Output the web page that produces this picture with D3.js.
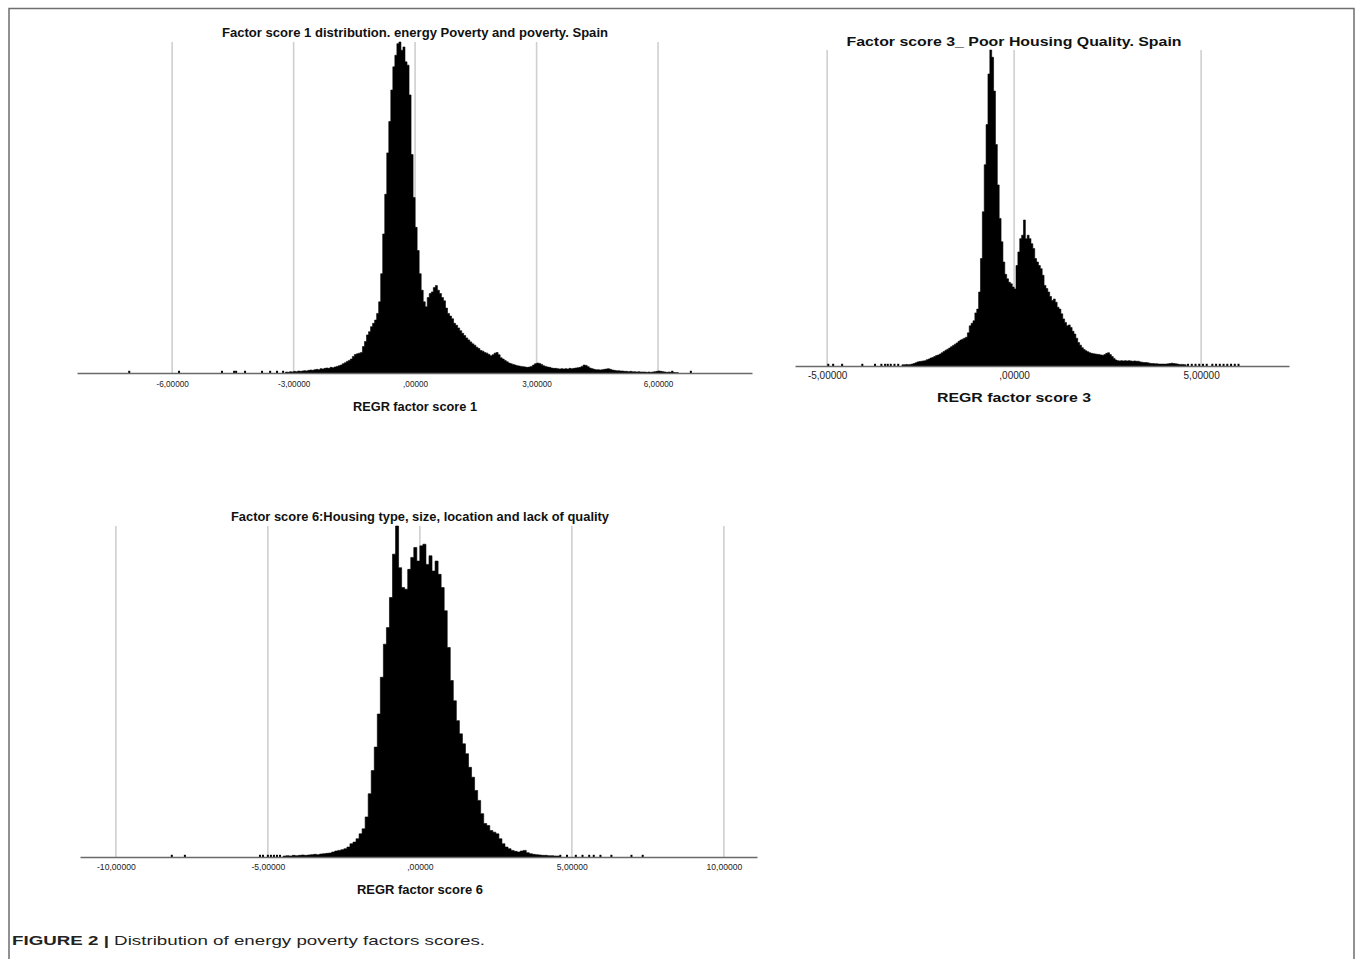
<!DOCTYPE html>
<html>
<head>
<meta charset="utf-8">
<script src="https://cdn.jsdelivr.net/npm/d3@7"></script>
<style>
  html, body { margin: 0; padding: 0; background: #fff; }
  svg { display: block; }
  text { font-family: "Liberation Sans", Arial, sans-serif; }
</style>
</head>
<body>
<svg id="fig" width="1357" height="959"></svg>
<script>
// ---------------- DATA (relative frequency, peak = 1000) ----------------
// Factor score 1: bins of 0.05 starting at -3.20
const score1Start = -3.2;
const score1BinWidth = 0.05;
const score1Counts = [
  3, 2, 4, 3, 5, 4, 6, 5, 6, 7, 6, 8, 9, 8, 10, 11, 10, 13, 12, 14, 15, 14, 17, 16,
  18, 20, 22, 24, 28, 31, 35, 38, 42, 50, 56, 58, 60, 62, 80, 95, 115, 125, 140, 150,
  160, 180, 215, 300, 420, 540, 665, 760, 855, 925, 960, 995, 1000, 975, 985, 940, 930, 840, 660, 530,
  440, 370, 300, 250, 215, 200, 228, 240, 245, 258, 264, 250, 240, 228, 218, 196, 180, 172, 164, 150,
  144, 136, 128, 120, 113, 106, 100, 94, 88, 84, 78, 74, 68, 66, 62, 60, 56, 52, 55, 60,
  62, 55, 46, 42, 38, 34, 30, 28, 26, 24, 22, 21, 20, 19, 18, 17, 18, 20, 24, 28,
  30, 29, 26, 22, 20, 18, 17, 15, 14, 14, 13, 12, 13, 12, 13, 12, 14, 13, 14, 15,
  16, 17, 20, 24, 23, 19, 15, 13, 11, 10, 10, 9, 10, 11, 12, 13, 11, 9, 8, 7,
  7, 6, 6, 5, 5, 4, 5, 4, 4, 3, 4, 3, 3, 3, 2, 3, 2, 3, 4, 5,
  6, 5, 4, 3, 2, 3, 2, 2, 1, 1
];
const score1Outliers = [-7.06, -5.83, -4.77, -4.47, -4.42, -4.2, -3.78, -3.58, -3.41, -3.26, 6.35, 6.81];
const score1Ticks = [-6, -3, 0, 3, 6];
const score1TickLabels = ["-6,00000", "-3,00000", ",00000", "3,00000", "6,00000"];

// Factor score 3: bins of 0.05 starting at -3.00
const score3Start = -3.0;
const score3BinWidth = 0.05;
const score3Counts = [
  4, 4, 5, 4, 5, 6, 8, 10, 13, 14, 15, 16, 17, 20, 22, 25, 27, 30, 33, 35,
  38, 42, 46, 50, 53, 57, 61, 65, 69, 73, 78, 82, 85, 88, 91, 105, 127, 135, 143, 168,
  180, 234, 340, 488, 637, 764, 924, 1000, 977, 870, 701, 573, 467, 393, 329, 290, 276, 265, 260, 250,
  244, 318, 361, 403, 414, 462, 403, 414, 403, 387, 372, 340, 329, 318, 308, 287, 255, 245, 234, 220,
  207, 212, 202, 186, 180, 165, 149, 138, 127, 130, 122, 110, 101, 88, 74, 66, 58, 52, 48, 45,
  42, 40, 39, 38, 37, 36, 35, 34, 36, 40, 42, 36, 30, 24, 19, 17, 16, 17, 16, 17,
  16, 17, 16, 15, 16, 15, 15, 13, 12, 11, 11, 10, 9, 8, 8, 7, 7, 6, 6, 6,
  6, 6, 7, 8, 9, 8, 7, 6, 5, 5, 5, 4
];
const score3Outliers = [-4.97, -4.84, -4.6, -4.06, -3.72, -3.55, -3.45, -3.38, -3.3, -3.2, -3.1,
  4.65, 4.75, 4.85, 4.95, 5.05, 5.15, 5.3, 5.4, 5.5, 5.6, 5.7, 5.8, 5.9, 6.0];
const score3Ticks = [-5, 0, 5];
const score3TickLabels = ["-5,00000", ",00000", "5,00000"];

// Factor score 6: bins of 0.1 starting at -4.5
const score6Start = -4.5;
const score6BinWidth = 0.1;
const score6Counts = [
  3, 4, 3, 5, 4, 5, 6, 5, 6, 7, 8, 7, 9, 10, 11, 12, 15, 18, 20, 22,
  25, 30, 40, 45, 55, 70, 85, 121, 191, 261, 332, 432, 543, 643, 693, 784, 915, 1000, 874, 814,
  809, 869, 905, 935, 894, 940, 945, 884, 910, 864, 894, 854, 814, 744, 633, 533, 472, 412, 372, 342,
  312, 271, 241, 201, 171, 131, 101, 95, 80, 75, 70, 55, 40, 30, 25, 20, 17, 15, 18, 20,
  13, 10, 8, 7, 6, 5, 5, 4, 4, 3, 3
];
const score6Outliers = [-8.16, -7.73, -5.26, -5.16, -5.0, -4.9, -4.8, -4.7, -4.6,
  4.62, 4.84, 5.13, 5.35, 5.57, 5.72, 5.94, 6.3, 6.96, 7.33];
const score6Ticks = [-10, -5, 0, 5, 10];
const score6TickLabels = ["-10,00000", "-5,00000", ",00000", "5,00000", "10,00000"];

const titles = [
  "Factor score  1 distribution. energy Poverty and poverty. Spain",
  "Factor score 3_ Poor Housing Quality. Spain",
  "Factor score 6:Housing type, size, location and lack of quality"
];
const axisTitles = ["REGR factor score 1", "REGR factor score 3", "REGR factor score 6"];

// ---------------- DRAWING ----------------
const svg = d3.select("#fig");

// outer frame (open at bottom)
svg.append("path")
  .attr("d", "M9,959 L9,8.5 L1354,8.5 L1354,959")
  .attr("fill", "none").attr("stroke", "#6e6e6e").attr("stroke-width", 1.5);

function drawHist(cfg) {
  const g = svg.append("g");
  const x = d3.scaleLinear().domain(cfg.domain).range([cfg.left, cfg.right]);
  const y = d3.scaleLinear().domain([0, 1000]).range([cfg.bottom, cfg.top]);

  // gridlines
  g.selectAll("line.grid").data(cfg.ticks).join("line")
    .attr("class", "grid")
    .attr("x1", d => x(d)).attr("x2", d => x(d))
    .attr("y1", cfg.top).attr("y2", cfg.bottom)
    .attr("stroke", "#cfcfcf").attr("stroke-width", 1.6);

  // histogram as one stepped area (no seams between bins)
  const pts = cfg.counts.map((c, i) => ({ x0: cfg.start + i * cfg.bw, c }));
  pts.push({ x0: cfg.start + cfg.counts.length * cfg.bw, c: cfg.counts[cfg.counts.length - 1] });
  const area = d3.area()
    .x(d => x(d.x0))
    .y0(cfg.bottom)
    .y1(d => y(d.c))
    .curve(d3.curveStepAfter);
  g.append("path").datum(pts)
    .attr("d", area)
    .attr("fill", "#000")
    .attr("stroke", "#000").attr("stroke-width", 0.6).attr("stroke-linejoin", "miter");

  // isolated extreme values
  g.selectAll("rect.out").data(cfg.outliers).join("rect")
    .attr("class", "out")
    .attr("x", d => x(d) - 1)
    .attr("width", 2)
    .attr("y", cfg.bottom - 2.2)
    .attr("height", 2.2)
    .attr("fill", "#000");

  // axis
  const axis = d3.axisBottom(x)
    .tickValues(cfg.ticks)
    .tickFormat((d, i) => cfg.tickLabels[i])
    .tickSize(0).tickSizeOuter(0).tickPadding(cfg.tickPad);
  const ax = g.append("g").attr("transform", `translate(0,${cfg.bottom})`).call(axis);
  ax.select(".domain").attr("stroke", "#6a6a6a").attr("stroke-width", 1.3);
  ax.selectAll("text")
    .attr("fill", "#222")
    .style("font-family", cfg.tickFont)
    .style("font-size", cfg.tickSize + "px");

  // title
  g.append("text")
    .attr("x", cfg.titleX).attr("y", cfg.titleY)
    .attr("text-anchor", "middle")
    .attr("font-weight", "bold")
    .attr("font-size", cfg.titleSize)
    .attr("textLength", cfg.titleLen).attr("lengthAdjust", "spacingAndGlyphs")
    .attr("fill", "#111")
    .text(cfg.title);

  g.append("text")
    .attr("x", cfg.titleX).attr("y", cfg.axisTitleY)
    .attr("text-anchor", "middle")
    .attr("font-weight", "bold")
    .attr("font-size", cfg.axisTitleSize)
    .attr("textLength", cfg.axisTitleLen).attr("lengthAdjust", "spacingAndGlyphs")
    .attr("fill", "#111")
    .text(cfg.axisTitle);
}

drawHist({
  domain: [-8.35, 8.32], left: 77, right: 752, top: 42, bottom: 373,
  start: score1Start, bw: score1BinWidth, counts: score1Counts, outliers: score1Outliers,
  ticks: score1Ticks, tickLabels: score1TickLabels, tickPad: 8, tickSize: 8.2,
  tickFont: "'Liberation Sans', Arial, sans-serif",
  title: titles[0], titleX: 415, titleY: 37, titleSize: 12.5, titleLen: 386,
  axisTitle: axisTitles[0], axisTitleY: 411, axisTitleSize: 12, axisTitleLen: 124
});

drawHist({
  domain: [-5.86, 7.35], left: 795, right: 1289, top: 50, bottom: 366,
  start: score3Start, bw: score3BinWidth, counts: score3Counts, outliers: score3Outliers,
  ticks: score3Ticks, tickLabels: score3TickLabels, tickPad: 6, tickSize: 10,
  tickFont: "'Liberation Sans', Arial, sans-serif",
  title: titles[1], titleX: 1014, titleY: 46, titleSize: 13, titleLen: 335,
  axisTitle: axisTitles[1], axisTitleY: 402, axisTitleSize: 13, axisTitleLen: 154
});

drawHist({
  domain: [-11.18, 11.09], left: 80, right: 757, top: 526, bottom: 857,
  start: score6Start, bw: score6BinWidth, counts: score6Counts, outliers: score6Outliers,
  ticks: score6Ticks, tickLabels: score6TickLabels, tickPad: 7, tickSize: 8.6,
  tickFont: "'Liberation Sans Narrow', 'Liberation Sans', Arial, sans-serif",
  title: titles[2], titleX: 420, titleY: 521, titleSize: 12.5, titleLen: 378,
  axisTitle: axisTitles[2], axisTitleY: 894, axisTitleSize: 12, axisTitleLen: 126
});

// caption
const cap = svg.append("text")
  .attr("x", 12).attr("y", 945)
  .attr("font-size", 13.5)
  .attr("textLength", 473).attr("lengthAdjust", "spacingAndGlyphs")
  .attr("fill", "#222");
cap.append("tspan").attr("font-weight", "bold").text("FIGURE 2 | ");
cap.append("tspan").text("Distribution of energy poverty factors scores.");
</script>
</body>
</html>
